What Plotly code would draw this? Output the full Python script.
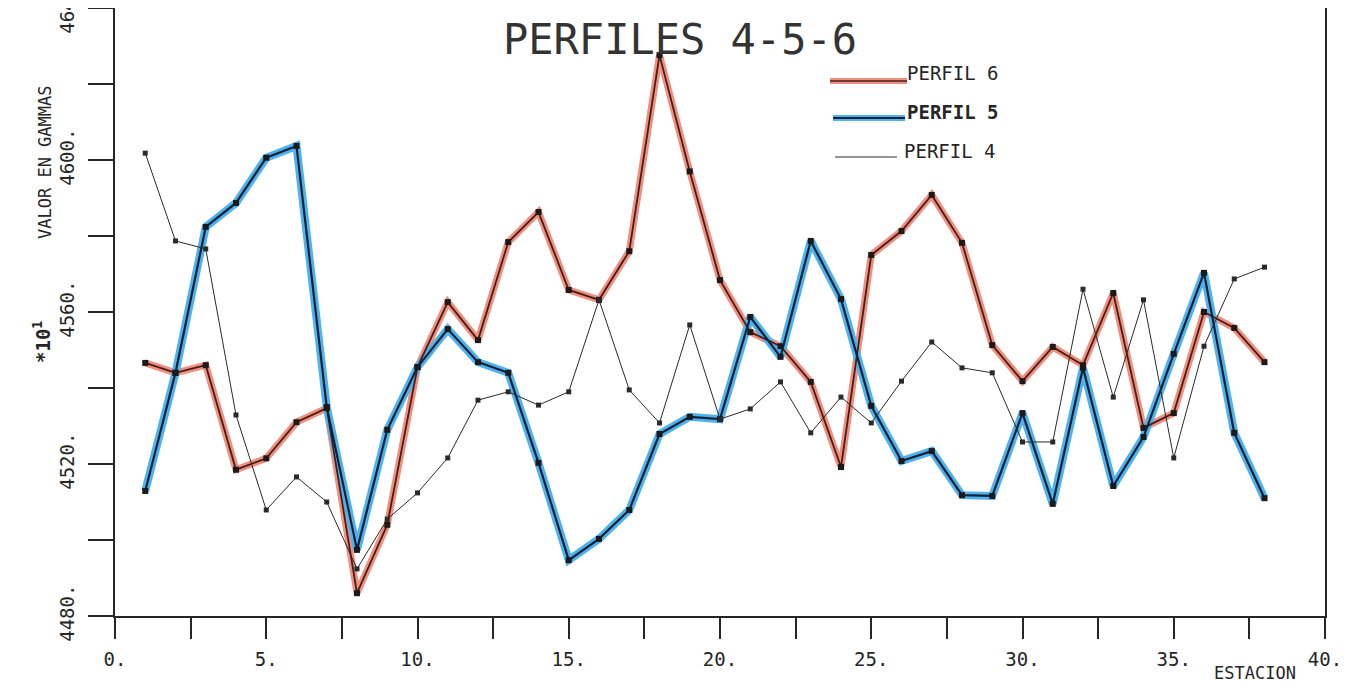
import plotly.graph_objects as go

estacion = list(range(1, 39))

perfil6 = [4546.6, 4544.0, 4546.0, 4518.5, 4521.5, 4531.0, 4534.7, 4486.0, 4504.0, 4545.5,
           4562.6, 4552.6, 4578.4, 4586.3, 4565.8, 4563.2, 4576.0, 4627.6, 4597.0, 4568.4,
           4554.7, 4551.0, 4541.6, 4519.2, 4575.0, 4581.3, 4590.8, 4578.2, 4551.3, 4541.8,
           4550.8, 4546.0, 4565.0, 4529.5, 4533.4, 4560.0, 4555.8, 4546.8]

perfil5 = [4512.9, 4544.0, 4582.4, 4588.7, 4600.6, 4603.7, 4535.0, 4497.4, 4529.0, 4545.5,
           4555.5, 4546.8, 4544.0, 4520.3, 4494.7, 4500.3, 4507.9, 4527.9, 4532.4, 4531.8,
           4558.7, 4548.2, 4578.7, 4563.4, 4535.3, 4520.8, 4523.4, 4511.8, 4511.6, 4533.4,
           4509.5, 4545.3, 4514.2, 4527.1, 4549.0, 4570.3, 4528.2, 4511.0]

perfil4 = [4601.8, 4578.7, 4576.6, 4532.9, 4507.9, 4516.6, 4510.0, 4492.4, 4505.5, 4512.4,
           4521.6, 4536.8, 4539.0, 4535.5, 4539.0, 4563.2, 4539.5, 4530.8, 4556.6, 4531.8,
           4534.5, 4541.6, 4528.2, 4537.6, 4530.8, 4541.8, 4552.1, 4545.3, 4544.0, 4525.8,
           4525.8, 4566.0, 4537.6, 4563.2, 4521.6, 4551.0, 4568.7, 4571.8]

x_tickvals = [0, 5, 10, 15, 20, 25, 30, 35, 40]
x_ticktext = ["0.", "5.", "10.", "15.", "20.", "25.", "30.", "35.", "40."]
y_tickvals = [4480, 4520, 4560, 4600, 4640]
y_ticktext = ["4480.", "4520.", "4560.", "4600.", "4640."]

FONT = "DejaVu Sans Mono"
INK = "#262626"
RED_HL = "#ef8f80"
BLUE_HL = "#4fb2ec"
RED_INK = "#4a1d16"
BLUE_INK = "#0f2238"

fig = go.Figure()

fig.add_trace(go.Scatter(x=estacion, y=perfil6, mode="lines",
                         line=dict(color=RED_HL, width=7), hoverinfo="skip"))
fig.add_trace(go.Scatter(x=estacion, y=perfil5, mode="lines",
                         line=dict(color=BLUE_HL, width=8), hoverinfo="skip"))
fig.add_trace(go.Scatter(x=estacion, y=perfil6, mode="lines+markers", name="PERFIL 6",
                         line=dict(color=RED_INK, width=1.8),
                         marker=dict(symbol="square", size=6, color="#1e1a1a")))
fig.add_trace(go.Scatter(x=estacion, y=perfil5, mode="lines+markers", name="PERFIL 5",
                         line=dict(color=BLUE_INK, width=2.2),
                         marker=dict(symbol="square", size=6, color="#1a1a1e")))
fig.add_trace(go.Scatter(x=estacion, y=perfil4, mode="lines+markers", name="PERFIL 4",
                         line=dict(color="#2a2a2a", width=1),
                         marker=dict(symbol="square", size=5, color="#2a2a2a")))

# page has an 8px body margin; figure sized to fit inside the window
OFF = 8
W, H = 1337, 677
PLOT_X0, PLOT_X1 = 115, 1325   # page pixels of x = 0 and 40
PLOT_Y0, PLOT_Y1 = 616, 8      # page pixels of y = 4480 and 4640
L = PLOT_X0 - OFF
T = PLOT_Y1 - OFF
pw = PLOT_X1 - PLOT_X0
ph = PLOT_Y0 - PLOT_Y1
R = W - L - pw
B = H - T - ph


def px(xp):
    return (xp - PLOT_X0) / pw


def py(yp):
    return (PLOT_Y0 - yp) / ph


def hline(x0, x1, y, color, width):
    return dict(type="line", xref="paper", yref="paper", x0=px(x0), x1=px(x1),
                y0=py(y), y1=py(y), line=dict(color=color, width=width))


shapes = [
    hline(830, 907, 81, RED_HL, 6),
    hline(830, 907, 81, RED_INK, 1.5),
    hline(833, 905, 118, BLUE_HL, 6),
    hline(833, 905, 118, BLUE_INK, 2),
    hline(835, 897, 157, "#2a2a2a", 1),
]


def label(text, x, y, size, angle=0, xanchor="center", color=INK):
    return dict(text=text, xref="paper", yref="paper", x=px(x), y=py(y),
                xanchor=xanchor, yanchor="middle", textangle=angle, showarrow=False,
                font=dict(family=FONT, size=size, color=color))


annotations = [
    label("PERFILES 4-5-6", 680, 39, 42, color="#333333"),
    label("PERFIL 6", 905, 73, 19, xanchor="left"),
    label("<b>PERFIL 5</b>", 905, 112, 19, xanchor="left"),
    label("PERFIL 4", 902, 151, 19, xanchor="left"),
    label("VALOR EN GAMMAS", 45, 162, 17, angle=-90),
    label("<b>*10<sup>1</sup></b>", 42, 342, 19, angle=-90),
    label("ESTACION", 1255, 673, 17),
]

fig.update_layout(
    width=W, height=H,
    margin=dict(l=L, r=R, t=T, b=B, autoexpand=False),
    paper_bgcolor="white", plot_bgcolor="white",
    showlegend=False,
    shapes=shapes,
    annotations=annotations,
    xaxis=dict(range=[0, 40], tickmode="array", tickvals=x_tickvals, ticktext=x_ticktext,
               ticks="outside", ticklen=21, tickwidth=2, tickcolor=INK,
               minor=dict(dtick=2.5, tick0=0, ticks="outside", ticklen=21, tickwidth=2,
                          tickcolor=INK, showgrid=False),
               showline=True, linecolor=INK, linewidth=2, mirror=True,
               showgrid=False, zeroline=False, ticklabelstandoff=4,
               ticklabeloverflow="allow",
               tickfont=dict(family=FONT, size=19, color=INK)),
    yaxis=dict(range=[4480, 4640], tickmode="array", tickvals=y_tickvals, ticktext=y_ticktext,
               ticks="outside", ticklen=25, tickwidth=2, tickcolor=INK, tickangle=-90,
               minor=dict(dtick=20, tick0=4480, ticks="outside", ticklen=25, tickwidth=2,
                          tickcolor=INK, showgrid=False),
               showline=True, linecolor=INK, linewidth=2, mirror=True,
               showgrid=False, zeroline=False, ticklabelstandoff=6,
               ticklabeloverflow="allow",
               tickfont=dict(family=FONT, size=19, color=INK)),
)

fig.write_html("out.html")
